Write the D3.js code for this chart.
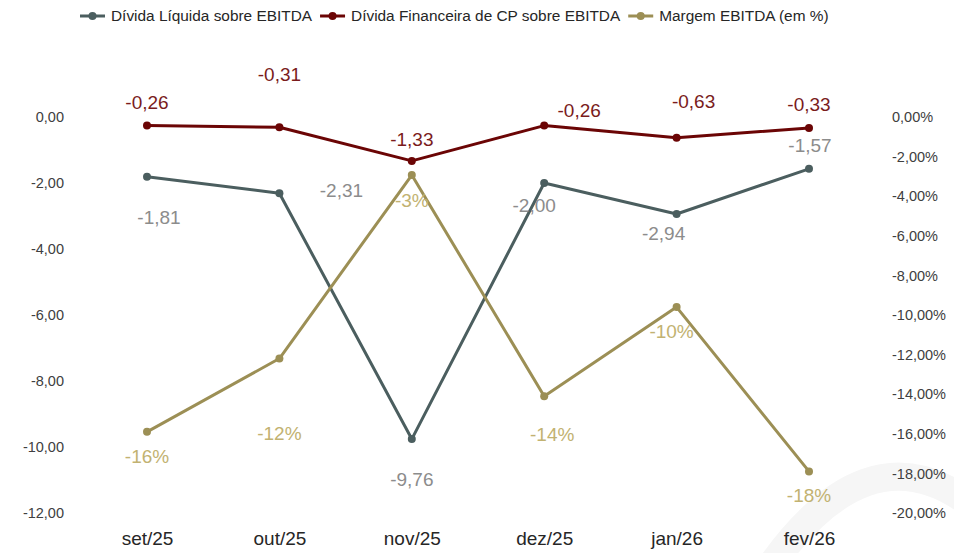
<!DOCTYPE html>
<html>
<head>
<meta charset="utf-8">
<script src="https://cdn.jsdelivr.net/npm/d3@7"></script>
<style>
  body { margin: 0; background: #fff; }
  svg { display: block; font-family: "Liberation Sans", Arial, sans-serif; }
</style>
</head>
<body>
<script>
// data
const months = ["set/25", "out/25", "nov/25", "dez/25", "jan/26", "fev/26"];
const dividaLiquida = [-1.81, -2.31, -9.76, -2.00, -2.94, -1.57];
const dividaCP = [-0.26, -0.31, -1.33, -0.26, -0.63, -0.33];
const margem = [-15.9, -12.2, -2.93, -14.1, -9.6, -17.9];
const leftTicks = [0, -2, -4, -6, -8, -10, -12];
const rightTicks = [0, -2, -4, -6, -8, -10, -12, -14, -16, -18, -20];

// label placement (offsets from the point, like excel's manual labels)
const offLiquida = [[12, 41], [62, -3], [0, 40], [-10, 22], [-13, 19], [1, -23]];
const offCP = [[0, -23], [0, -53], [0, -22], [35, -15], [17, -36], [0, -24]];
const offMargem = [[0, 25], [0, 75], [0, 25], [8, 38], [-5, 24], [0, 24]];

const width = 954, height = 553;
const fmt = v => d3.format(".2f")(v).replace("−", "-").replace(".", ",");

const svg = d3.select("body").append("svg")
  .attr("width", width)
  .attr("height", height);

// faint watermark arc in the corner
svg.append("path")
  .attr("d", "M 768 570 Q 865 430 965 500")
  .attr("fill", "none")
  .attr("stroke", "#f6f6f6")
  .attr("stroke-width", 28);

const x = d3.scalePoint()
  .domain(months)
  .range([147, 809]);

const yLeft = d3.scaleLinear()
  .domain([-12, 0])
  .range([513, 117]);

const yRight = d3.scaleLinear()
  .domain([-20, 0])
  .range([513, 117]);

// axes, no lines just labels
const axL = svg.append("g")
  .attr("transform", "translate(72,0)")
  .call(d3.axisLeft(yLeft).tickValues(leftTicks).tickSize(0).tickPadding(8).tickFormat(fmt));
const axR = svg.append("g")
  .attr("transform", "translate(884,0)")
  .call(d3.axisRight(yRight).tickValues(rightTicks).tickSize(0).tickPadding(8).tickFormat(d => fmt(d) + "%"));
const axB = svg.append("g")
  .attr("transform", "translate(0,528)")
  .call(d3.axisBottom(x).tickSize(0).tickPadding(4));

[axL, axR].forEach(a => {
  a.select(".domain").remove();
  a.selectAll("text")
    .attr("font-family", "Liberation Sans, Arial, sans-serif")
    .attr("font-size", 14.5)
    .attr("fill", "#404040");
});
axB.select(".domain").remove();
axB.selectAll("text")
  .attr("font-family", "Liberation Sans, Arial, sans-serif")
  .attr("font-size", 19)
  .attr("fill", "#262626");

const series = [
  { name: "Dívida Líquida sobre EBITDA", values: dividaLiquida, y: yLeft, color: "#4b5e5f", labelColor: "#8c8c8c", off: offLiquida, label: fmt },
  { name: "Dívida Financeira de CP sobre EBITDA", values: dividaCP, y: yLeft, color: "#6b0505", labelColor: "#7a1c1c", off: offCP, label: fmt },
  { name: "Margem EBITDA (em %)", values: margem, y: yRight, color: "#9c8f55", labelColor: "#c2b271", off: offMargem, label: v => Math.round(v) + "%" }
];

// draw lines + points
series.forEach(s => {
  const line = d3.line()
    .x((d, i) => x(months[i]))
    .y(d => s.y(d));

  svg.append("path")
    .datum(s.values)
    .attr("fill", "none")
    .attr("stroke", s.color)
    .attr("stroke-width", 3)
    .attr("stroke-linejoin", "round")
    .attr("d", line);

  svg.selectAll(null)
    .data(s.values)
    .enter().append("circle")
    .attr("cx", (d, i) => x(months[i]))
    .attr("cy", d => s.y(d))
    .attr("r", 4)
    .attr("fill", s.color);
});

// data labels on top
series.forEach(s => {
  svg.selectAll(null)
    .data(s.values)
    .enter().append("text")
    .attr("x", (d, i) => x(months[i]) + s.off[i][0])
    .attr("y", (d, i) => s.y(d) + s.off[i][1])
    .attr("dy", "0.35em")
    .attr("text-anchor", "middle")
    .attr("font-size", 19)
    .attr("fill", s.labelColor)
    .text(d => s.label(d));
});

// legend
const legend = svg.append("g").attr("transform", "translate(80,16)");
let lx = 0;
series.forEach(s => {
  const g = legend.append("g").attr("transform", `translate(${lx},0)`);
  g.append("line")
    .attr("x1", 0).attr("x2", 25)
    .attr("stroke", s.color)
    .attr("stroke-width", 3);
  g.append("circle")
    .attr("cx", 12.5)
    .attr("r", 4)
    .attr("fill", s.color);
  const t = g.append("text")
    .attr("x", 31)
    .attr("dy", "0.35em")
    .attr("font-family", "Liberation Sans Narrow, Arial Narrow, sans-serif")
    .attr("font-size", 15.4)
    .attr("fill", "#262626")
    .text(s.name);
  lx += 31 + t.node().getComputedTextLength() + 8;
});
</script>
</body>
</html>
